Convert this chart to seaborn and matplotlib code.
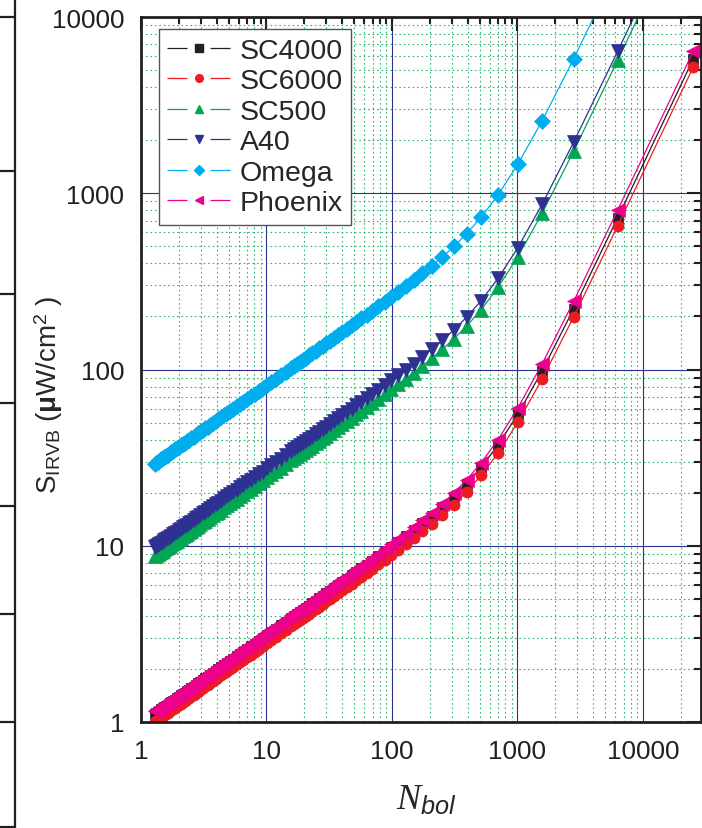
import matplotlib
matplotlib.use('Agg')
import matplotlib.pyplot as plt
from matplotlib.lines import Line2D
from matplotlib.ticker import LogLocator, NullFormatter
import seaborn as sns

sns.set_style("white")
plt.rcParams.update({
    'font.family': ['Liberation Sans', 'DejaVu Sans'],
    'mathtext.fontset': 'custom',
    'mathtext.rm': 'Liberation Sans',
    'mathtext.bf': 'Liberation Sans:bold',
    'mathtext.it': 'Liberation Serif:italic',
    'mathtext.sf': 'Liberation Sans:italic',
    'lines.scale_dashes': False,
    'axes.edgecolor': '#231f20',
    'xtick.color': '#231f20',
    'ytick.color': '#231f20',
})

# number of bolometers (x) and sensitivity per camera (y)
n_bol = [25200, 6300, 2800, 1575, 1008, 700, 514.3, 393.8, 311.1, 252,
         208.3, 175, 149.1, 128.6, 112, 98.44, 87.20, 77.78, 69.81, 63.0,
         57.14, 52.07, 47.64, 43.75, 40.32, 37.28, 34.57, 32.14, 29.96, 28.0,
         26.22, 24.61, 23.14, 21.80, 20.57, 19.44, 18.41, 17.45, 16.57, 15.75,
         14.29, 13.02, 11.91, 10.94, 10.08, 9.320, 8.642, 8.036, 7.491, 7.000,
         6.556, 6.152, 5.785, 5.450, 5.143, 4.861, 4.602, 4.363, 4.142, 3.938,
         3.748, 3.571, 3.407, 3.254, 3.111, 2.977, 2.852, 2.734, 2.624, 2.520,
         2.422, 2.330, 2.243, 2.160, 2.083, 2.009, 1.939, 1.873, 1.810, 1.750,
         1.693, 1.639, 1.587, 1.538, 1.491, 1.446, 1.403, 1.362, 1.323, 1.286]

s_sc4000 = [5791, 727.7, 220.6, 98.49, 55.79, 37.29, 27.91, 22.50, 19.02, 16.60,
            14.80, 13.39, 12.26, 11.31, 10.51, 9.827, 9.229, 8.701, 8.233, 7.813,
            7.436, 7.094, 6.782, 6.497, 6.235, 5.994, 5.770, 5.563, 5.371, 5.191,
            5.023, 4.866, 4.718, 4.579, 4.448, 4.324, 4.207, 4.096, 3.991, 3.891,
            3.705, 3.536, 3.383, 3.242, 3.112, 2.992, 2.881, 2.779, 2.683, 2.593,
            2.510, 2.431, 2.358, 2.288, 2.223, 2.161, 2.103, 2.047, 1.995, 1.945,
            1.898, 1.852, 1.809, 1.768, 1.729, 1.691, 1.655, 1.621, 1.588, 1.556,
            1.525, 1.496, 1.468, 1.441, 1.415, 1.389, 1.365, 1.341, 1.319, 1.297,
            1.275, 1.255, 1.235, 1.216, 1.197, 1.179, 1.161, 1.144, 1.128, 1.111]

s_sc6000 = [5210, 654.8, 198.5, 88.62, 50.20, 33.55, 25.11, 20.24, 17.12, 14.94,
            13.31, 12.05, 11.03, 10.18, 9.460, 8.842, 8.303, 7.829, 7.407, 7.030,
            6.691, 6.383, 6.102, 5.846, 5.610, 5.393, 5.192, 5.006, 4.832, 4.670,
            4.519, 4.378, 4.245, 4.120, 4.002, 3.891, 3.785, 3.686, 3.591, 3.501,
            3.333, 3.182, 3.043, 2.917, 2.800, 2.692, 2.593, 2.500, 2.414, 2.333,
            2.258, 2.188, 2.121, 2.059, 2.000, 1.944, 1.892, 1.842, 1.795, 1.750,
            1.707, 1.667, 1.628, 1.591, 1.556, 1.522, 1.489, 1.458, 1.429, 1.400,
            1.373, 1.346, 1.321, 1.296, 1.273, 1.250, 1.228, 1.207, 1.186, 1.167,
            1.148, 1.129, 1.111, 1.094, 1.077, 1.061, 1.045, 1.029, 1.014, 1.000]

s_sc500 = [45400, 5706, 1729, 772.3, 437.4, 292.4, 218.8, 176.4, 149.1, 130.2,
           116.0, 105.0, 96.09, 88.70, 82.44, 77.05, 72.36, 68.22, 64.55, 61.26,
           58.30, 55.62, 53.17, 50.94, 48.89, 46.99, 45.24, 43.62, 42.11, 40.70,
           39.38, 38.15, 36.99, 35.90, 34.87, 33.90, 32.98, 32.12, 31.29, 30.51,
           29.05, 27.73, 26.52, 25.42, 24.40, 23.46, 22.59, 21.79, 21.03, 20.33,
           19.68, 19.06, 18.48, 17.94, 17.43, 16.94, 16.49, 16.05, 15.64, 15.25,
           14.88, 14.52, 14.19, 13.86, 13.56, 13.26, 12.98, 12.71, 12.45, 12.20,
           11.96, 11.73, 11.51, 11.30, 11.09, 10.89, 10.70, 10.52, 10.34, 10.17,
           10.00, 9.84, 9.68, 9.53, 9.38, 9.24, 9.10, 8.97, 8.84, 8.71]

s_a40 = [51060, 6417, 1945, 868.5, 491.9, 328.8, 246.1, 198.4, 167.7, 146.4,
         130.5, 118.1, 108.1, 99.75, 92.71, 86.65, 81.37, 76.72, 72.59, 68.89,
         65.57, 62.55, 59.80, 57.29, 54.98, 52.85, 50.88, 49.06, 47.35, 45.77,
         44.29, 42.90, 41.60, 40.37, 39.22, 38.13, 37.09, 36.12, 35.19, 34.31,
         32.67, 31.18, 29.83, 28.58, 27.44, 26.38, 25.41, 24.50, 23.66, 22.87,
         22.13, 21.44, 20.79, 20.18, 19.60, 19.06, 18.54, 18.05, 17.59, 17.15,
         16.73, 16.33, 15.95, 15.59, 15.24, 14.91, 14.60, 14.29, 14.00, 13.72,
         13.45, 13.19, 12.94, 12.70, 12.47, 12.25, 12.04, 11.83, 11.63, 11.43,
         11.25, 11.06, 10.89, 10.72, 10.55, 10.39, 10.24, 10.09, 9.94, 9.80]

s_omega = [151800, 19080, 5783, 2583, 1463, 977.8, 731.7, 590.0, 498.8, 435.3,
           388.0, 351.1, 321.3, 296.6, 275.7, 257.7, 242.0, 228.2, 215.9, 204.9,
           195.0, 186.0, 177.8, 170.4, 163.5, 157.2, 151.3, 145.9, 140.8, 136.1,
           131.7, 127.6, 123.7, 120.1, 116.6, 113.4, 110.3, 107.4, 104.7, 102.0,
           97.14, 92.73, 88.70, 85.00, 81.60, 78.46, 75.56, 72.86, 70.34, 68.00,
           65.81, 63.75, 61.82, 60.00, 58.29, 56.67, 55.14, 53.68, 52.31, 51.00,
           49.76, 48.57, 47.44, 46.36, 45.33, 44.35, 43.40, 42.50, 41.63, 40.80,
           40.00, 39.23, 38.49, 37.78, 37.09, 36.43, 35.79, 35.17, 34.58, 34.00,
           33.44, 32.90, 32.38, 31.88, 31.38, 30.91, 30.45, 30.00, 29.57, 29.14]

s_phoenix = [6410, 805.0, 243.3, 107.9, 60.54, 40.00, 29.63, 23.70, 19.93, 17.33,
             15.41, 13.92, 12.72, 11.73, 10.90, 10.18, 9.560, 9.012, 8.525, 8.090,
             7.698, 7.343, 7.020, 6.724, 6.453, 6.203, 5.972, 5.757, 5.558, 5.372,
             5.198, 5.035, 4.882, 4.738, 4.602, 4.474, 4.353, 4.238, 4.130, 4.026,
             3.833, 3.659, 3.500, 3.354, 3.220, 3.096, 2.981, 2.875, 2.776, 2.683,
             2.597, 2.516, 2.439, 2.368, 2.300, 2.236, 2.176, 2.118, 2.064, 2.013,
             1.963, 1.917, 1.872, 1.830, 1.789, 1.750, 1.713, 1.677, 1.643, 1.610,
             1.578, 1.548, 1.519, 1.491, 1.464, 1.438, 1.412, 1.388, 1.364, 1.342,
             1.320, 1.298, 1.278, 1.258, 1.238, 1.220, 1.201, 1.184, 1.167, 1.150]

labels = ["SC4000", "SC6000", "SC500", "A40", "Omega", "Phoenix"]
series = [s_sc4000, s_sc6000, s_sc500, s_a40, s_omega, s_phoenix]
colors = ["#231f20", "#ed1c24", "#00a651", "#2e3192", "#00aeef", "#ec008c"]
markers = ["s", "o", "^", "v", "D", "<"]
msizes = [7, 8, 9.5, 9.5, 8, 9.5]

x_ticks = [1, 10, 100, 1000, 10000]
x_ticklabels = ["1", "10", "100", "1000", "10000"]
y_ticks = [1, 10, 100, 1000, 10000]
y_ticklabels = ["1", "10", "100", "1000", "10000"]

fig = plt.figure(figsize=(7.02, 8.29), dpi=100)
ax = fig.add_axes([141 / 702, 106 / 829, 560 / 702, 705 / 829])

for lab, vals, c, m, ms in zip(labels, series, colors, markers, msizes):
    sns.lineplot(x=n_bol, y=vals, ax=ax, color=c, marker=m, markersize=ms,
                 markeredgecolor=c, markeredgewidth=0.5, linewidth=0.9,
                 sort=False, estimator=None, legend=False)

ax.set_xscale('log')
ax.set_yscale('log')
ax.set_xlim(1, 29000)
ax.set_ylim(1, 10000)

ax.set_xticks(x_ticks)
ax.set_xticklabels(x_ticklabels)
ax.set_yticks(y_ticks)
ax.set_yticklabels(y_ticklabels)
ax.xaxis.set_minor_locator(LogLocator(base=10, subs=range(2, 10), numticks=20))
ax.yaxis.set_minor_locator(LogLocator(base=10, subs=range(2, 10), numticks=20))
ax.xaxis.set_minor_formatter(NullFormatter())
ax.yaxis.set_minor_formatter(NullFormatter())

ax.set_axisbelow(True)
ax.grid(which='minor', color='#00a651', lw=0.8, ls=(0, (1.2, 2.0)), alpha=0.8)
ax.grid(which='major', color='#2e3192', lw=0.8, ls='-')

ax.tick_params(which='both', direction='in', top=True, right=True,
               labelsize=18.8, width=1.5, pad=12)
ax.tick_params(which='major', length=10)
ax.tick_params(which='minor', length=5)
for sp in ax.spines.values():
    sp.set_linewidth(2)

ax.set_ylabel('S$_{\\mathrm{IRVB}}$ ($\\mathbf{\\mu}$W/cm$^{2}$ )', fontsize=20)
ax.yaxis.set_label_coords(-0.135, 0.465)
ax.set_xlabel('$N_{\\mathsf{bol}}$', fontsize=26)
ax.xaxis.set_label_coords(0.51, -0.085)

# legend with gapped line handles
handles = [Line2D([], [], color=c, marker=m, markersize=5.5, markeredgecolor=c,
                  lw=0.9, linestyle=(0, (14.4, 16.6)))
           for c, m in zip(colors, markers)]
leg = ax.legend(handles, labels, loc='upper left', bbox_to_anchor=(0.032, 0.983),
                borderaxespad=0, fontsize=20.5, handlelength=2.2, handletextpad=0.33,
                borderpad=0.3, labelspacing=0.16, fancybox=False, framealpha=1,
                edgecolor='#555555')
leg.get_frame().set_linewidth(1.0)

# edge of neighbouring panel on the left
fig.add_artist(Line2D([15 / 702, 15 / 702], [0, 1], transform=fig.transFigure,
                      color='#231f20', lw=1.6))
for yp in [18, 172, 295, 404, 507, 615, 723, 828]:
    fig.add_artist(Line2D([0, 15 / 702], [1 - yp / 829, 1 - yp / 829],
                          transform=fig.transFigure, color='#231f20', lw=1.6))

fig.savefig('out.png', dpi=100)
plt.close(fig)
